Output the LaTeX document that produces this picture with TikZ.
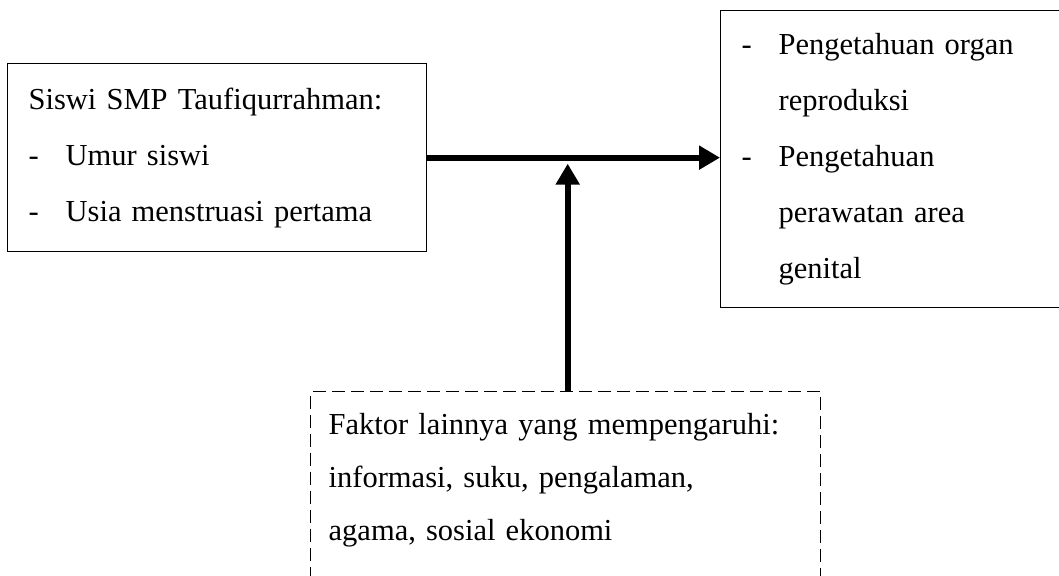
\documentclass[tikz,border=0pt]{standalone}
\usepackage{fontspec}
\setmainfont{Liberation Serif}
\usetikzlibrary{positioning, arrows.meta}

\tikzset{
	box/.style={draw, line width=1.3pt, align=left, anchor=north west,
		font=\fontsize{30.5}{56}\selectfont, inner xsep=21pt, inner ysep=0pt},
	otherbox/.style={box, dash pattern=on 13pt off 6pt, line width=1.4pt,
		font=\fontsize{30.5}{53}\selectfont, inner xsep=18pt, inner ysep=21.5pt},
	flow/.style={line width=6pt, -{Triangle[length=21pt,width=23pt]}},
}
\newcommand{\dashitem}[1]{\makebox[37pt][l]{-}#1}
\newcommand{\indentitem}[1]{\hspace*{37pt}#1}

\begin{document}
\begin{tikzpicture}[x=1pt, y=-1pt]
	\useasboundingbox (0,0) rectangle (1059,575);
	\node [box, minimum width=419pt, minimum height=188pt, text width=377pt] (siswi) at (7,63)
		{
			Siswi SMP Taufiqurrahman:\\
			\dashitem{Umur siswi}\\
			\dashitem{Usia menstruasi pertama}
		};
	\node [box, minimum width=345pt, minimum height=297pt, text width=303pt] (pengetahuan) at (720,10)
		{
			\dashitem{Pengetahuan organ}\\
			\indentitem{reproduksi}\\
			\dashitem{Pengetahuan}\\
			\indentitem{perawatan area}\\
			\indentitem{genital}
		};
	% box runs on below the page
	\node [otherbox, minimum width=510pt, text width=474pt] (faktor) at (310,391)
		{
			Faktor lainnya yang mempengaruhi:\\
			informasi, suku, pengalaman,\\
			agama, sosial ekonomi\rule[-60pt]{0pt}{0pt}
		};
	\draw [flow] (siswi.east) -- (siswi.east -| pengetahuan.west);
	\draw [flow, shorten >=6pt] ([xshift=2pt]faktor.north) -- ([xshift=2pt]faktor.north |- siswi.east);
\end{tikzpicture}
\end{document}
